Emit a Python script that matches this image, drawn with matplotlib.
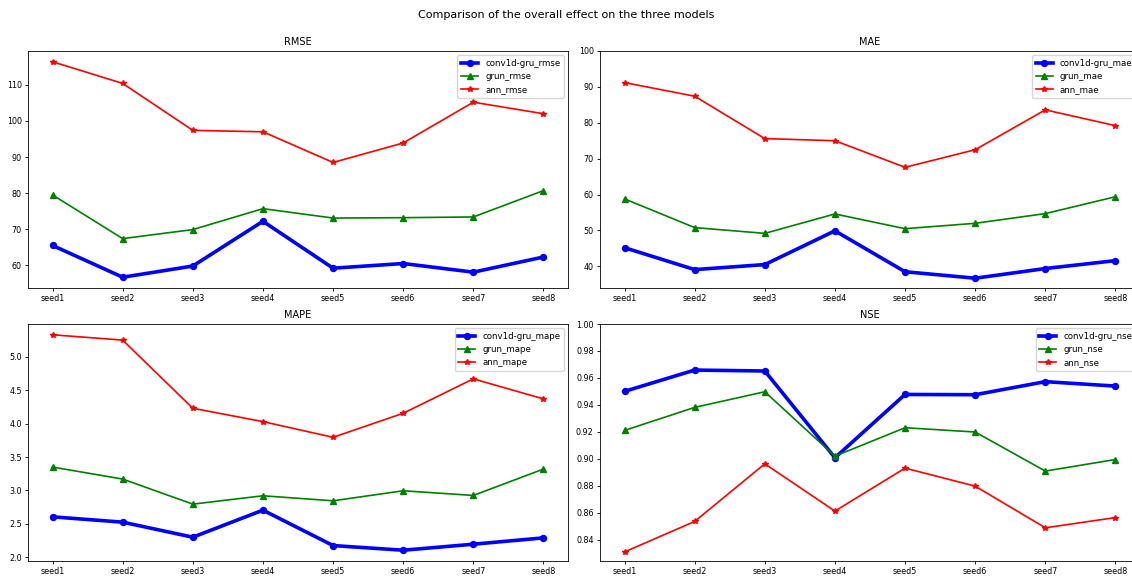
import numpy as np
import matplotlib
matplotlib.use('Agg')
import matplotlib.pyplot as plt

seeds = ['seed1', 'seed2', 'seed3', 'seed4', 'seed5', 'seed6', 'seed7', 'seed8']

conv_rmse = [65.5, 56.7, 59.8, 72.2, 59.2, 60.5, 58.1, 62.3]
grun_rmse = [79.5, 67.4, 69.9, 75.7, 73.1, 73.2, 73.4, 80.7]
ann_rmse = [116.4, 110.4, 97.4, 97.0, 88.5, 93.9, 105.2, 102.0]

conv_mae = [45.2, 39.1, 40.5, 49.9, 38.5, 36.7, 39.4, 41.6]
grun_mae = [58.8, 50.8, 49.2, 54.6, 50.5, 52.0, 54.7, 59.4]
ann_mae = [91.2, 87.4, 75.6, 75.0, 67.6, 72.5, 83.6, 79.2]

conv_mape = [2.605, 2.525, 2.30, 2.705, 2.175, 2.105, 2.195, 2.29]
grun_mape = [3.35, 3.17, 2.795, 2.92, 2.845, 2.995, 2.925, 3.32]
ann_mape = [5.33, 5.25, 4.23, 4.03, 3.795, 4.155, 4.67, 4.37]

conv_nse = [0.950, 0.9658, 0.9651, 0.9007, 0.9477, 0.9475, 0.9572, 0.9539]
grun_nse = [0.9210, 0.9381, 0.9497, 0.9019, 0.9230, 0.9198, 0.8908, 0.8994]
ann_nse = [0.8308, 0.8534, 0.8962, 0.8611, 0.8930, 0.8796, 0.8487, 0.8563]

W, H = 1132, 577
fig = plt.figure(figsize=(W / 100, H / 100), dpi=100)

# axes boxes in pixels: left, top, right, bottom (right panels run past the edge)
boxes = [(28, 51, 568, 288), (600, 51, 1140, 288),
         (28, 324, 568, 561), (600, 324, 1140, 561)]

panels = [('RMSE', 'rmse', conv_rmse, grun_rmse, ann_rmse, None),
          ('MAE', 'mae', conv_mae, grun_mae, ann_mae, 100),
          ('MAPE', 'mape', conv_mape, grun_mape, ann_mape, None),
          ('NSE', 'nse', conv_nse, grun_nse, ann_nse, 1.0)]

for (l, t, r, b), (title, key, conv, grun, ann, top) in zip(boxes, panels):
    ax = fig.add_axes([l / W, 1 - b / H, (r - l) / W, (b - t) / H])
    ax.plot(seeds, conv, color='b', marker='o', linewidth=2.6, markersize=4.3,
            label=f'conv1d-gru_{key}')
    ax.plot(seeds, grun, color='g', marker='^', linewidth=1.2, markersize=3.8,
            label=f'grun_{key}')
    ax.plot(seeds, ann, color='r', marker='*', linewidth=1.2, markersize=4,
            label=f'ann_{key}')
    if top is not None:
        ax.set_ylim(top=top)
    ax.set_title(title, fontsize=7, pad=4)
    ax.tick_params(labelsize=5.8, length=2.5, width=0.6, pad=2)
    for s in ax.spines.values():
        s.set_linewidth(0.6)
    ax.legend(loc='upper right', fontsize=6.2, borderpad=0.4, handlelength=2.0)

fig.suptitle('Comparison of the overall effect on the three models', fontsize=8, y=0.982)

plt.savefig('out.png', dpi=100)
